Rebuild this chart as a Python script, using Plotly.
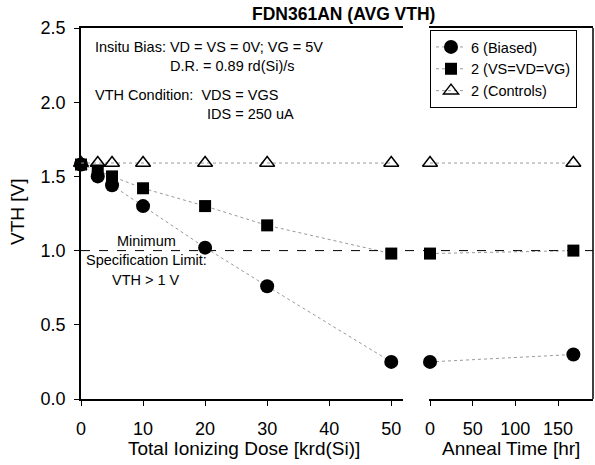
import plotly.graph_objects as go

# Data
dose = [0, 2.7, 5, 10, 20, 30, 50]
anneal = [0, 168]

biased_dose = [1.58, 1.50, 1.44, 1.30, 1.02, 0.76, 0.25]
biased_anneal = [0.25, 0.30]
grounded_dose = [1.58, 1.54, 1.50, 1.42, 1.30, 1.17, 0.98]
grounded_anneal = [0.98, 1.00]
control_dose = [1.59, 1.59, 1.59, 1.59, 1.59, 1.59, 1.59]
control_anneal = [1.59, 1.59]

spec_limit = 1.0

FONT = 'Arial, Liberation Sans, sans-serif'
DOT = dict(color='#999999', width=1, dash='dot')

series = [
    ('6 (Biased)', biased_dose, biased_anneal,
     dict(symbol='circle', size=14, color='black')),
    ('2 (VS=VD=VG)', grounded_dose, grounded_anneal,
     dict(symbol='square', size=12, color='black')),
    ('2 (Controls)', control_dose, control_anneal,
     dict(symbol='triangle-up-open', size=13, color='black', line=dict(width=1.5))),
]

fig = go.Figure()

for name, yd, ya, mk in series:
    fig.add_trace(go.Scatter(
        x=dose, y=yd, xaxis='x', yaxis='y', mode='lines+markers',
        name=name, legendgroup=name, line=DOT, marker=mk, cliponaxis=False,
    ))
    fig.add_trace(go.Scatter(
        x=anneal, y=ya, xaxis='x2', yaxis='y', mode='lines+markers',
        name=name, legendgroup=name, showlegend=False, line=DOT, marker=mk,
        cliponaxis=False,
    ))

# spec limit dashed line across both panels
fig.add_shape(type='line', xref='paper', yref='y', x0=0, x1=1,
              y0=spec_limit, y1=spec_limit,
              line=dict(color='black', width=1, dash='dash'))
# right frame edge
fig.add_shape(type='line', xref='paper', yref='paper', x0=1, x1=1, y0=0, y1=1,
              line=dict(color='black', width=1.5))

axis_common = dict(
    showline=True, linecolor='black', linewidth=1.5, mirror=True,
    ticks='outside', ticklen=5, tickcolor='black', showgrid=False,
    zeroline=False, automargin=False,
    tickfont=dict(family=FONT, size=18, color='black'),
)

# positions below are figure pixels, converted to plot fractions later
ann_font = dict(family=FONT, size=14.5, color='black')
ann_list = []
for txt, px, py in [('Insitu Bias: VD = VS = 0V; VG = 5V', 93, 47),
                    ('D.R. = 0.89 rd(Si)/s', 168, 66),
                    ('VTH Condition:  VDS = VGS', 93, 95),
                    ('IDS = 250 uA', 205, 114)]:
    ann_list.append(dict(text=txt, x=px, y=py, xanchor='left', font=ann_font))
for txt, py in [('Minimum', 241), ('Specification Limit:', 260), ('VTH > 1 V', 280)]:
    ann_list.append(dict(text=txt, x=146, y=py, xanchor='center', font=ann_font))

title_font = dict(family=FONT, size=19, color='black')
ann_list += [
    dict(text='<b>FDN361AN (AVG VTH)</b>', x=343, y=14, xanchor='center',
         font=dict(family=FONT, size=17.5, color='black')),
    dict(text='Total Ionizing Dose [krd(Si)]', x=244, y=449, xanchor='center',
         font=title_font),
    dict(text='Anneal Time [hr]', x=511, y=449, xanchor='center', font=title_font),
    dict(text='VTH [V]', x=17, y=212, xanchor='center', textangle=-90,
         font=title_font),
]

L, R, T, B = 81, 2, 28, 66
W, H = 595, 465
for a in ann_list:
    a['x'] = (a['x'] - L) / (W - L - R)
    a['y'] = 1 - (a['y'] - T) / (H - T - B)
    a.update(xref='paper', yref='paper', yanchor='middle', showarrow=False)

fig.update_layout(
    template='none',
    width=W, height=H,
    margin=dict(l=L, r=R, t=T, b=B),
    plot_bgcolor='white', paper_bgcolor='white',
    font=dict(family=FONT, color='black'),
    xaxis=dict(domain=[0, 0.629], range=[0, 51.9], anchor='y',
               tickvals=[0, 10, 20, 30, 40, 50], ticklabelstandoff=8,
               **axis_common),
    xaxis2=dict(domain=[0.680, 1], range=[-1, 191], anchor='y',
                tickvals=[0, 50, 100, 150], ticklabelstandoff=8,
                **axis_common),
    yaxis=dict(domain=[0, 1], range=[0, 2.5], anchor='x',
               tickvals=[0, 0.5, 1.0, 1.5, 2.0, 2.5], tickformat='.1f',
               ticklabelstandoff=5,
               **{k: v for k, v in axis_common.items() if k != 'mirror'}),
    legend=dict(x=(430 - L) / (W - L - R), y=1 - 2 / (H - T - B),
                xanchor='left', yanchor='top',
                bgcolor='white', bordercolor='black', borderwidth=1,
                font=dict(family=FONT, size=14.5, color='black'),
                itemwidth=30, tracegroupgap=0),
    annotations=ann_list,
    showlegend=True,
)

fig.write_html('out.html', config={'displayModeBar': False},
               post_script="document.body.style.margin='0px';")
